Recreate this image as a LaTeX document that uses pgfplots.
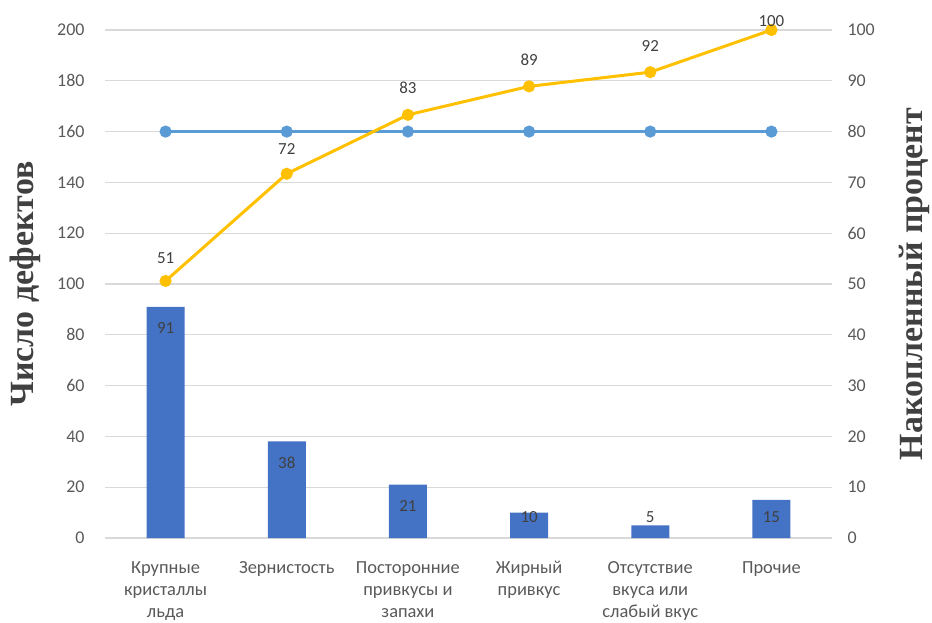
\documentclass[border=0pt]{standalone}
\usepackage{pgfplots}
\pgfplotsset{compat=1.18}
\usepackage{pgfplotstable}
\usepackage{fontspec}
\setmainfont{Carlito}
\newfontfamily\serifb{Liberation Serif}
\definecolor{barblue}{HTML}{4472C4}
\definecolor{lineblue}{HTML}{5B9BD5}
\definecolor{lineyel}{HTML}{FFC000}
\definecolor{gridgray}{HTML}{D9D9D9}
\definecolor{tickgray}{HTML}{595959}
\definecolor{labgray}{HTML}{404040}

% counts of defects
\pgfplotstableread{
x y
0 91
1 38
2 21
3 10
4 5
5 15
}\bars
% bar label positions (inside end, limited near base)
\pgfplotstableread{
x y lab
0 82.5 91
1 29.5 38
2 12.5 21
3 8.4 10
4 8.4 5
5 8.4 15
}\barlabs
% cumulative percent
\pgfplotstableread{
x y
0 50.6
1 71.7
2 83.3
3 88.9
4 91.7
5 100
}\cum
\pgfplotstableread{
x y lab
0 55.1 51
1 76.6 72
2 88.6 83
3 94.1 89
4 96.9 92
5 101.8 100
}\cumlabs
\pgfplotstableread{
x y
0 80
1 80
2 80
3 80
4 80
5 80
}\eighty

\begin{document}
\begin{tikzpicture}
\path[use as bounding box] (0,0) rectangle (932bp,623bp);
\begin{axis}[
  at={(105bp,85bp)}, anchor=south west,
  scale only axis, width=727bp, height=508bp,
  xmin=-0.5, xmax=5.5, ymin=0, ymax=200,
  ytick={0,20,...,200},
  xtick={0,...,5},
  xticklabels={{Крупные\\кристаллы\\льда},{Зернистость},{Посторонние\\привкусы и\\запахи},{Жирный\\привкус},{Отсутствие\\вкуса или\\слабый вкус},{Прочие}},
  xticklabel style={align=center, font=\fontsize{18.5}{22}\selectfont, text=tickgray, yshift=-20bp},
  yticklabel style={font=\fontsize{18}{20}\selectfont, text=tickgray, xshift=-17bp},
  /pgf/number format/assume math mode=true,
  major tick length=0pt,
  axis line style={draw=none},
  ymajorgrids, grid style={draw=gridgray, line width=1.2bp},
  ylabel={\serifb\bfseries Число дефектов},
  ylabel style={at={(axis description cs:-0.11,0.5)}, anchor=center, font=\fontsize{34}{36}\selectfont, text=labgray},
  clip=false,
]
\addplot[ybar, bar width=38bp, fill=barblue, draw=none] table {\bars};
\addplot[only marks, mark=none, nodes near coords={\pgfplotspointmeta},
  point meta=explicit symbolic,
  nodes near coords style={anchor=center, font=\fontsize{17}{18}\selectfont, text=labgray}]
  table[meta=lab] {\barlabs};
\end{axis}
\begin{axis}[
  at={(105bp,85bp)}, anchor=south west,
  scale only axis, width=727bp, height=508bp,
  xmin=-0.5, xmax=5.5, ymin=0, ymax=100,
  ytick={0,10,...,100},
  axis x line=none,
  axis y line*=right,
  yticklabel style={font=\fontsize{18}{20}\selectfont, text=tickgray, xshift=12bp},
  /pgf/number format/assume math mode=true,
  major tick length=0pt,
  axis line style={draw=none},
  ylabel={\serifb\bfseries Накопленный процент},
  ylabel style={at={(axis description cs:1.113,0.5)}, anchor=center, rotate=0, font=\fontsize{34}{36}\selectfont, text=labgray},
  clip=false,
]
\addplot[lineblue, line width=3bp, mark=*, mark size=4.5bp, mark options={fill=lineblue, draw=lineblue}] table {\eighty};
\addplot[lineyel, line width=3bp, mark=*, mark size=4.5bp, mark options={fill=lineyel, draw=lineyel}] table {\cum};
\addplot[only marks, mark=none, nodes near coords={\pgfplotspointmeta},
  point meta=explicit symbolic,
  nodes near coords style={anchor=center, font=\fontsize{17}{18}\selectfont, text=labgray}]
  table[meta=lab] {\cumlabs};
\end{axis}
\end{tikzpicture}
\end{document}
